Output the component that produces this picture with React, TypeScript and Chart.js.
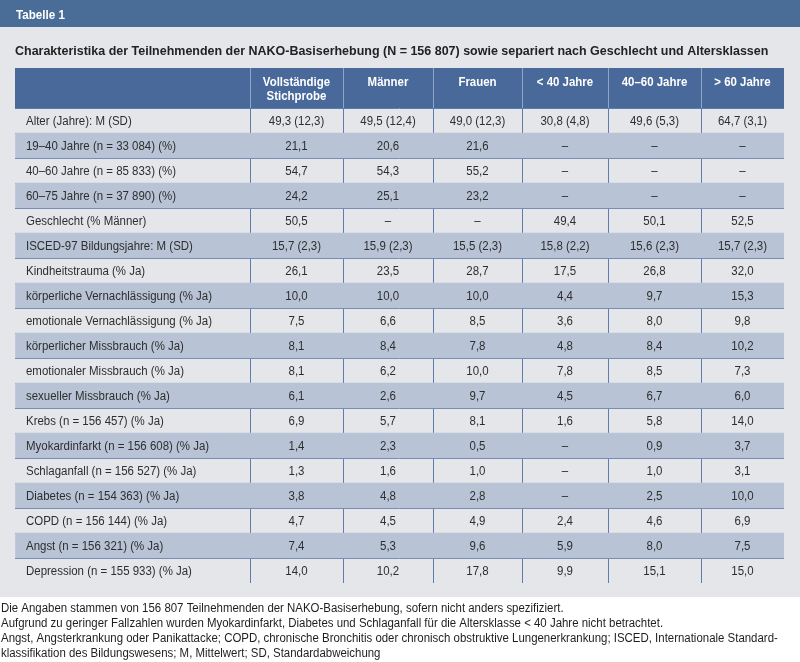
import React, { useEffect, useRef } from "react";
import { Chart, registerables } from "chart.js";

Chart.register(...registerables);

// ---------- data ----------
const tableNumber = "Tabelle 1";
const tableTitle =
  "Charakteristika der Teilnehmenden der NAKO-Basiserhebung (N = 156 807) sowie separiert nach Geschlecht und Altersklassen";

const columnHeaders: string[][] = [
  [""],
  ["Vollständige", "Stichprobe"],
  ["Männer"],
  ["Frauen"],
  ["< 40 Jahre"],
  ["40–60 Jahre"],
  ["> 60 Jahre"],
];

const rowLabels = [
  "Alter (Jahre): M (SD)",
  "19–40 Jahre (n = 33 084) (%)",
  "40–60 Jahre (n = 85 833) (%)",
  "60–75 Jahre (n = 37 890) (%)",
  "Geschlecht (% Männer)",
  "ISCED-97 Bildungsjahre: M (SD)",
  "Kindheitstrauma (% Ja)",
  "körperliche Vernachlässigung (% Ja)",
  "emotionale Vernachlässigung (% Ja)",
  "körperlicher Missbrauch (% Ja)",
  "emotionaler Missbrauch (% Ja)",
  "sexueller Missbrauch (% Ja)",
  "Krebs (n = 156 457) (% Ja)",
  "Myokardinfarkt (n = 156 608) (% Ja)",
  "Schlaganfall (n = 156 527) (% Ja)",
  "Diabetes (n = 154 363) (% Ja)",
  "COPD (n = 156 144) (% Ja)",
  "Angst (n = 156 321) (% Ja)",
  "Depression (n = 155 933) (% Ja)",
];

const colFull = ["49,3 (12,3)", "21,1", "54,7", "24,2", "50,5", "15,7 (2,3)", "26,1", "10,0", "7,5", "8,1", "8,1", "6,1", "6,9", "1,4", "1,3", "3,8", "4,7", "7,4", "14,0"];
const colMen = ["49,5 (12,4)", "20,6", "54,3", "25,1", "–", "15,9 (2,3)", "23,5", "10,0", "6,6", "8,4", "6,2", "2,6", "5,7", "2,3", "1,6", "4,8", "4,5", "5,3", "10,2"];
const colWomen = ["49,0 (12,3)", "21,6", "55,2", "23,2", "–", "15,5 (2,3)", "28,7", "10,0", "8,5", "7,8", "10,0", "9,7", "8,1", "0,5", "1,0", "2,8", "4,9", "9,6", "17,8"];
const colUnder40 = ["30,8 (4,8)", "–", "–", "–", "49,4", "15,8 (2,2)", "17,5", "4,4", "3,6", "4,8", "7,8", "4,5", "1,6", "–", "–", "–", "2,4", "5,9", "9,9"];
const col40to60 = ["49,6 (5,3)", "–", "–", "–", "50,1", "15,6 (2,3)", "26,8", "9,7", "8,0", "8,4", "8,5", "6,7", "5,8", "0,9", "1,0", "2,5", "4,6", "8,0", "15,1"];
const colOver60 = ["64,7 (3,1)", "–", "–", "–", "52,5", "15,7 (2,3)", "32,0", "15,3", "9,8", "10,2", "7,3", "6,0", "14,0", "3,7", "3,1", "10,0", "6,9", "7,5", "15,0"];

const footnotes = [
  "Die Angaben stammen von 156 807 Teilnehmenden der NAKO-Basiserhebung, sofern nicht anders spezifiziert.",
  "Aufgrund zu geringer Fallzahlen wurden Myokardinfarkt, Diabetes und Schlaganfall für die Altersklasse < 40 Jahre nicht betrachtet.",
  "Angst, Angsterkrankung oder Panikattacke; COPD, chronische Bronchitis oder chronisch obstruktive Lungenerkrankung; ISCED, Internationale Standard-",
  "klassifikation des Bildungswesens; M, Mittelwert; SD, Standardabweichung",
];

// ---------- layout / style ----------
const W = 800;
const H = 662;
const COL_WIDTHS = [235, 93, 90, 89, 86, 93, 83];
const COL_EDGES = COL_WIDTHS.reduce<number[]>((acc, w) => {
  acc.push(acc[acc.length - 1] + w);
  return acc;
}, [0]);
const SPAN = COL_EDGES[COL_EDGES.length - 1];

const FONT = '"Liberation Sans", Arial, Helvetica, sans-serif';
const SQUEEZE = 0.955;
const BAND = "#4a6d98";
const HEADER = "#48699a";
const HEADER_DIV = "#8ea5c6";
const PAGE_BG = "#e4e6ea";
const SHADE = "#b8c4d6";
const GRID = "#5f7dab";
const TEXT = "#2e2e2e";

function txt(
  ctx: CanvasRenderingContext2D,
  s: string,
  x: number,
  y: number,
  align: CanvasTextAlign,
  sx: number = SQUEEZE
) {
  ctx.save();
  ctx.translate(x, y);
  ctx.scale(sx, 1);
  ctx.textAlign = align;
  ctx.fillText(s, 0, 0);
  ctx.restore();
}

const tablePlugin = {
  id: "tableDecor",
  beforeDraw(chart: any) {
    const ctx = chart.ctx as CanvasRenderingContext2D;
    const xs = chart.scales.x;
    const area = chart.chartArea;
    ctx.save();
    ctx.fillStyle = "#ffffff";
    ctx.fillRect(0, 0, W, H);
    ctx.fillStyle = PAGE_BG;
    ctx.fillRect(0, 27, W, 570);
    ctx.fillStyle = BAND;
    ctx.fillRect(0, 0, W, 27);

    ctx.fillStyle = "#ffffff";
    ctx.font = `bold 12.5px ${FONT}`;
    ctx.textBaseline = "alphabetic";
    txt(ctx, tableNumber, 16, 18.5, "left", 0.93);

    ctx.fillStyle = "#222222";
    ctx.font = `bold 13px ${FONT}`;
    txt(ctx, tableTitle, 15, 55, "left", 0.96);

    // header
    const top = 68;
    ctx.fillStyle = HEADER;
    ctx.fillRect(area.left, top, area.right - area.left, area.top - top);
    ctx.strokeStyle = HEADER_DIV;
    ctx.lineWidth = 1;
    for (let j = 1; j < COL_EDGES.length - 1; j++) {
      const x = Math.round(xs.getPixelForValue(COL_EDGES[j])) + 0.5;
      ctx.beginPath();
      ctx.moveTo(x, top);
      ctx.lineTo(x, area.top);
      ctx.stroke();
    }
    ctx.fillStyle = "#ffffff";
    ctx.font = `bold 12px ${FONT}`;
    ctx.textBaseline = "middle";
    columnHeaders.forEach((lines, j) => {
      const cx = xs.getPixelForValue((COL_EDGES[j] + COL_EDGES[j + 1]) / 2);
      lines.forEach((t, k) => txt(ctx, t, cx, 83 + k * 14, "center"));
    });

    // footnotes
    ctx.fillStyle = "#1e1e1e";
    ctx.font = `12px ${FONT}`;
    footnotes.forEach((t, k) => txt(ctx, t, 1, 609 + k * 15, "left", 0.953));
    ctx.restore();
  },
  afterDraw(chart: any) {
    const ctx = chart.ctx as CanvasRenderingContext2D;
    const xs = chart.scales.x;
    const ys = chart.scales.y;
    const cols = [colFull, colMen, colWomen, colUnder40, col40to60, colOver60];
    ctx.save();
    ctx.fillStyle = TEXT;
    ctx.font = `12px ${FONT}`;
    ctx.textBaseline = "middle";
    rowLabels.forEach((label, i) => {
      const y = ys.getPixelForValue(i) + 1;
      txt(ctx, label, xs.getPixelForValue(0) + 11, y, "left");
      cols.forEach((col, j) => {
        const cx = xs.getPixelForValue((COL_EDGES[j + 1] + COL_EDGES[j + 2]) / 2);
        txt(ctx, col[i], cx, y, "center");
      });
    });
    ctx.restore();
  },
};

export default function App() {
  const ref = useRef<HTMLCanvasElement | null>(null);
  useEffect(() => {
    document.body.style.margin = "0";
    const canvas = ref.current;
    if (!canvas) return;
    const chart = new Chart(canvas, {
      type: "bar",
      data: {
        labels: rowLabels,
        datasets: [
          {
            label: "Zeilenschattierung",
            data: rowLabels.map((_, i) => (i % 2 === 1 ? [0, SPAN] : null)) as any,
            backgroundColor: SHADE,
            borderWidth: 0,
            barPercentage: 1,
            categoryPercentage: 1,
          },
        ],
      },
      options: {
        indexAxis: "y",
        responsive: false,
        animation: false,
        events: [],
        layout: { padding: { left: 15, right: 16, top: 108, bottom: 79 } },
        plugins: { legend: { display: false }, tooltip: { enabled: false } },
        scales: {
          x: {
            type: "linear",
            min: 0,
            max: SPAN,
            z: 1,
            border: { display: false },
            ticks: { display: false },
            afterBuildTicks: (s: any) => {
              s.ticks = COL_EDGES.map((v) => ({ value: v }));
            },
            grid: {
              drawTicks: false,
              lineWidth: 1,
              color: (c: any) =>
                c.tick && c.tick.value > 0 && c.tick.value < SPAN ? GRID : "rgba(0,0,0,0)",
            },
          },
          y: {
            type: "category",
            z: 1,
            border: { display: false },
            ticks: { display: false },
            grid: {
              offset: true,
              drawTicks: false,
              lineWidth: 1,
              color: (c: any) => (c.type === "tick" ? GRID : "rgba(0,0,0,0)"),
            },
          },
        },
      },
      plugins: [tablePlugin],
    });
    return () => chart.destroy();
  }, []);
  return <canvas ref={ref} width={W} height={H} style={{ display: "block", width: W, height: H }} />;
}
